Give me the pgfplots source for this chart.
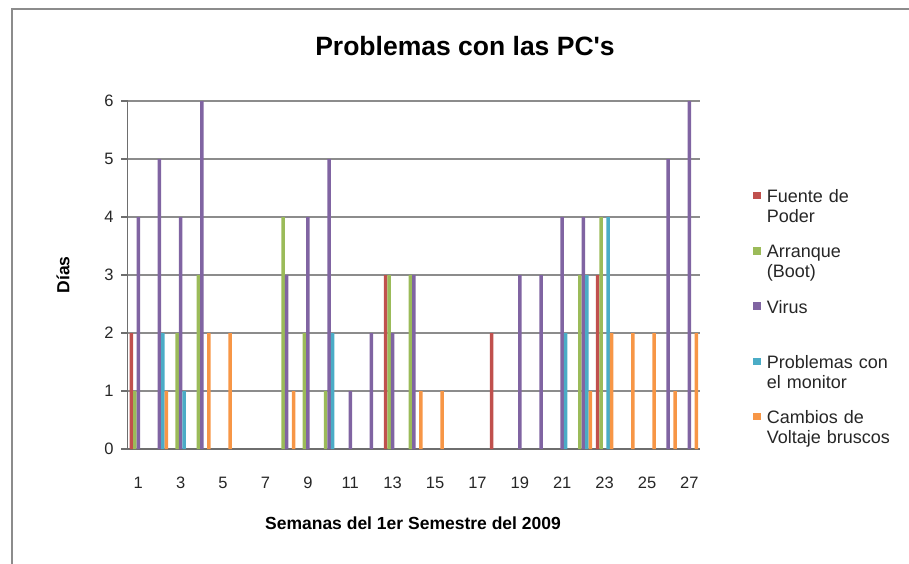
\documentclass[border=0pt]{standalone}
\usepackage{fontspec}
\setmainfont{Liberation Sans}[Ligatures=TeXOff]
\usepackage{pgfplots}
\pgfplotsset{compat=1.18}
\definecolor{cRed}{HTML}{C0504D}
\definecolor{cGreen}{HTML}{9BBB59}
\definecolor{cPurple}{HTML}{8064A2}
\definecolor{cBlue}{HTML}{4BACC6}
\definecolor{cOrange}{HTML}{F79646}
\definecolor{gridgray}{HTML}{8C8C8C}
\definecolor{axgray}{HTML}{6E6E6E}
\definecolor{txt}{HTML}{262626}
\begin{document}
\begin{tikzpicture}
\path[use as bounding box] (0pt,0pt) rectangle (909pt,563pt);
\draw[gridgray, line width=1.2pt] (12pt,-5pt) -- (12pt,554pt) -- (915pt,554pt);
\begin{axis}[
  at={(127.7pt,114pt)}, anchor=south west,
  scale only axis, width=572.3pt, height=348pt,
  ybar=0pt, bar width=3.5pt,
  xmin=0.5, xmax=27.5, ymin=0, ymax=6,
  separate axis lines,
  axis x line*=bottom, axis y line*=left,
  x axis line style={-, draw=axgray, line width=2pt},
  y axis line style={-, draw=axgray, line width=1.5pt},
  xtick={1,3,...,27}, ytick={0,1,...,6},
  xtick style={draw=none},
  ytick pos=left,
  ytick style={draw=axgray, line width=1.3pt},
  tick align=outside, major tick length=6.5pt,
  ymajorgrids, major grid style={gridgray, line width=1.2pt},
  /pgf/number format/assume math mode=true,
  tick label style={font=\fontsize{16.5}{19}\selectfont, text=txt},
  xticklabel style={yshift=-18pt},
  yticklabel style={xshift=-4pt},
  title={Problemas con las PC's},
  title style={font=\bfseries\fontsize{26.5}{30}\selectfont, at={(rel axis cs:0.5894,1.142)}, anchor=center},
  xlabel={Semanas del 1er Semestre del 2009},
  xlabel style={font=\bfseries\fontsize{17.5}{20}\selectfont, at={(rel axis cs:0.4985,-0.212)}, anchor=center},
  ylabel={Días},
  ylabel style={font=\bfseries\fontsize{17.5}{20}\selectfont, at={(rel axis cs:-0.113,0.5)}, anchor=center},
  legend style={draw=none, fill=none, at={(rel axis cs:1.0931,0.754)}, anchor=north west,
    inner sep=0pt, outer sep=0pt, row sep=35.8pt, column sep=4pt,
    font=\fontsize{18}{20}\selectfont, text=txt,
    cells={anchor=base west, align=left, text width=150pt, inner sep=0pt}},
  legend image code/.code={\fill[#1] (0pt,3.4pt) rectangle (7.6pt,11pt);},
]
\addplot[fill=cRed, draw=none] coordinates {(1,2) (13,3) (18,2) (23,3)};
\addplot[fill=cGreen, draw=none] coordinates {(1,1) (3,2) (4,3) (8,4) (9,2) (10,1) (13,3) (14,3) (22,3) (23,4)};
\addplot[fill=cPurple, draw=none] coordinates {(1,4) (2,5) (3,4) (4,6) (8,3) (9,4) (10,5) (11,1) (12,2) (13,2) (14,3) (19,3) (20,3) (21,4) (22,4) (26,5) (27,6)};
\addplot[fill=cBlue, draw=none] coordinates {(2,2) (3,1) (10,2) (21,2) (22,3) (23,4)};
\addplot[fill=cOrange, draw=none] coordinates {(2,1) (4,2) (5,2) (8,1) (14,1) (15,1) (22,1) (23,2) (24,2) (25,2) (26,1) (27,2)};
\legend{\strut Fuente de\\\strut Poder, \strut Arranque\\\strut (Boot), \strut Virus\\\strut, \strut Problemas con\\\strut el monitor, \strut Cambios de\\\strut Voltaje bruscos}
\end{axis}
\end{tikzpicture}
\end{document}
